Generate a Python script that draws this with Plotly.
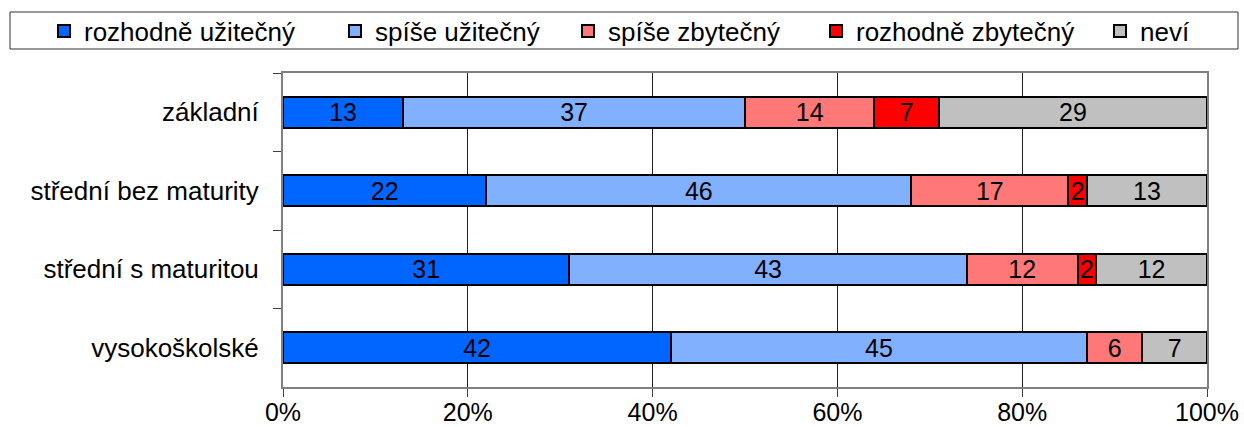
import plotly.graph_objects as go

categories = ["základní", "střední bez maturity", "střední s maturitou", "vysokoškolské"]
series_names = ["rozhodně užitečný", "spíše užitečný", "spíše zbytečný", "rozhodně zbytečný", "neví"]
rozhodne_uzitecny = [13, 22, 31, 42]
spise_uzitecny = [37, 46, 43, 45]
spise_zbytecny = [14, 17, 12, 6]
rozhodne_zbytecny = [7, 2, 2, None]
nevi = [29, 13, 12, 7]
x_ticks = [0, 20, 40, 60, 80, 100]
x_tick_labels = ["0%", "20%", "40%", "60%", "80%", "100%"]

values = [rozhodne_uzitecny, spise_uzitecny, spise_zbytecny, rozhodne_zbytecny, nevi]
colors = ["#0066FF", "#80B0FF", "#FF7878", "#FF0000", "#C0C0C0"]
legend_lefts = [60, 351, 584, 832, 1116]

FONT = "Liberation Sans, Arial, sans-serif"
W, H = 1244, 427
L, R, T, B = 283, 37, 73, 40

fig = go.Figure()
for i, (name, vals, col) in enumerate(zip(series_names, values, colors)):
    lg = "legend" if i == 0 else f"legend{i+1}"
    fig.add_trace(go.Bar(
        y=categories, x=vals, name=name, orientation="h",
        marker=dict(color=col, line=dict(color="black", width=2)),
        width=0.4,
        text=[("" if v is None else str(v)) for v in vals],
        textposition="inside", insidetextanchor="middle", textangle=0,
        textfont=dict(family=FONT, size=25, color="black"),
        legend=lg, cliponaxis=False,
    ))

layout_legends = {}
for i, left in enumerate(legend_lefts):
    key = "legend" if i == 0 else f"legend{i+1}"
    layout_legends[key] = dict(
        xref="container", yref="container",
        x=(left - 16) / W, y=1 - 31 / H, xanchor="left", yanchor="middle",
        orientation="h", bgcolor="rgba(0,0,0,0)", borderwidth=0,
        font=dict(family=FONT, size=26, color="black"),
    )

pw = W - L - R
ph = H - T - B
fig.update_layout(
    width=W, height=H,
    margin=dict(l=L, r=R, t=T, b=B, autoexpand=False),
    barmode="stack",
    plot_bgcolor="white", paper_bgcolor="white",
    font=dict(family=FONT, size=25, color="black"),
    uniformtext=dict(minsize=25, mode="show"),
    showlegend=True,
    **layout_legends,
    shapes=[dict(
        type="rect", xref="paper", yref="paper",
        x0=(10 - L) / pw, x1=(1238 - L) / pw,
        y0=(H - B - 49) / ph, y1=(H - B - 12) / ph,
        line=dict(color="#303030", width=1), fillcolor="rgba(0,0,0,0)", layer="below",
    )],
)
fig.update_xaxes(
    range=[0, 100], tickvals=x_ticks, ticktext=x_tick_labels,
    showgrid=True, gridcolor="#202020", gridwidth=1,
    showline=True, linecolor="#808080", linewidth=2, mirror=True,
    ticks="outside", ticklen=8, tickcolor="#404040", tickwidth=1,
    ticklabelstandoff=-6,
    tickfont=dict(family=FONT, size=25, color="black"),
    zeroline=False, fixedrange=True,
)
fig.update_yaxes(
    autorange="reversed", type="category",
    showgrid=False,
    showline=True, linecolor="#808080", linewidth=2, mirror=True,
    ticks="outside", ticklen=8, tickcolor="#404040", tickwidth=1,
    tickson="boundaries", ticklabelstandoff=17,
    tickfont=dict(family=FONT, size=26, color="black"),
    fixedrange=True,
)

fig.write_html("out.html", config={"displayModeBar": False},
               post_script="document.body.style.margin='0';")
